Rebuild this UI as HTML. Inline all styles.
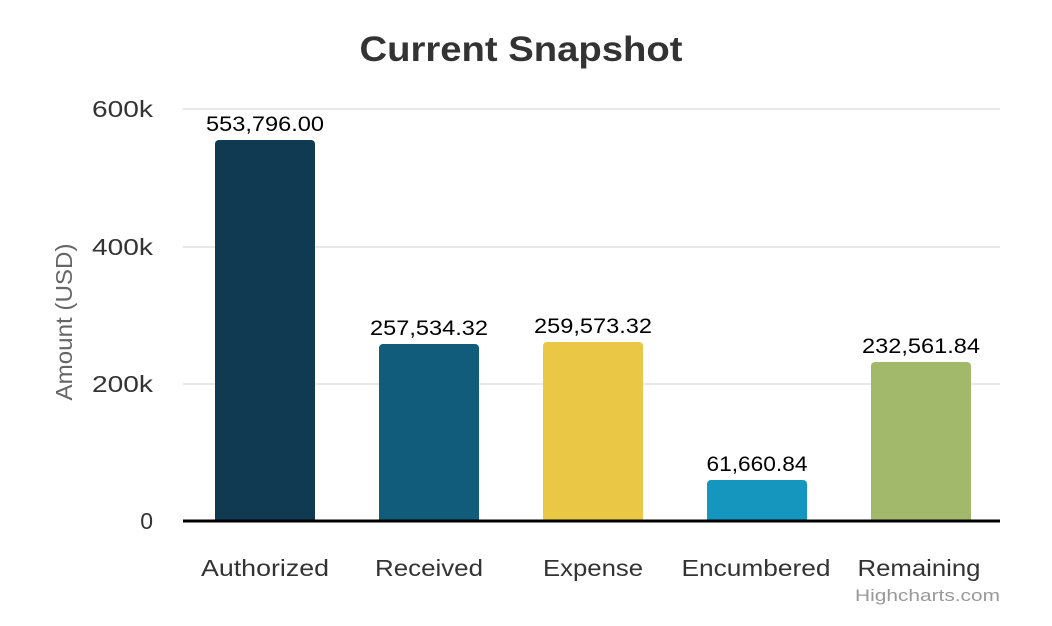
<!DOCTYPE html>
<html><head><style>body{margin:0;background:#fff}svg{display:block;font-family:"Liberation Sans",sans-serif}</style></head><body>
<svg width="1052" height="626" viewBox="0 0 1052 626">
<rect width="1052" height="626" fill="#fff"/>
<text x="521" y="61" text-anchor="middle" font-size="35" font-weight="bold" fill="#333" textLength="323" lengthAdjust="spacingAndGlyphs">Current Snapshot</text>
<g stroke="#e0e0e0" stroke-width="1.5">
<line x1="183" x2="1000" y1="109" y2="109"/>
<line x1="183" x2="1000" y1="247" y2="247"/>
<line x1="183" x2="1000" y1="384" y2="384"/>
</g>
<g font-size="23" fill="#333" text-anchor="end" lengthAdjust="spacingAndGlyphs">
<text x="153" y="117" textLength="61" lengthAdjust="spacingAndGlyphs">600k</text>
<text x="153" y="255" textLength="61" lengthAdjust="spacingAndGlyphs">400k</text>
<text x="153" y="392" textLength="61" lengthAdjust="spacingAndGlyphs">200k</text>
<text x="153" y="529">0</text>
</g>
<text transform="translate(72 322) rotate(-90)" text-anchor="middle" font-size="23" fill="#666" textLength="157" lengthAdjust="spacingAndGlyphs">Amount (USD)</text>
<path d="M215 521V144a4 4 0 0 1 4-4h92a4 4 0 0 1 4 4V521Z" fill="#103a52"/>
<path d="M379 521V348a4 4 0 0 1 4-4h92a4 4 0 0 1 4 4V521Z" fill="#115c7a"/>
<path d="M543 521V346a4 4 0 0 1 4-4h92a4 4 0 0 1 4 4V521Z" fill="#eac745"/>
<path d="M707 521V484a4 4 0 0 1 4-4h92a4 4 0 0 1 4 4V521Z" fill="#1596bf"/>
<path d="M871 521V366a4 4 0 0 1 4-4h92a4 4 0 0 1 4 4V521Z" fill="#a2b86a"/>
<line x1="183" x2="1000" y1="521" y2="521" stroke="#000" stroke-width="3"/>
<g font-size="21" fill="#000" text-anchor="middle">
<text x="265" y="131" textLength="118" lengthAdjust="spacingAndGlyphs">553,796.00</text>
<text x="429" y="335" textLength="118" lengthAdjust="spacingAndGlyphs">257,534.32</text>
<text x="593" y="333" textLength="118" lengthAdjust="spacingAndGlyphs">259,573.32</text>
<text x="757" y="471" textLength="101" lengthAdjust="spacingAndGlyphs">61,660.84</text>
<text x="921" y="353" textLength="118" lengthAdjust="spacingAndGlyphs">232,561.84</text>
</g>
<g font-size="23" fill="#333" text-anchor="middle">
<text x="265" y="576" textLength="128" lengthAdjust="spacingAndGlyphs">Authorized</text>
<text x="429" y="576" textLength="108" lengthAdjust="spacingAndGlyphs">Received</text>
<text x="593" y="576" textLength="100" lengthAdjust="spacingAndGlyphs">Expense</text>
<text x="756" y="576" textLength="149" lengthAdjust="spacingAndGlyphs">Encumbered</text>
<text x="919" y="576" textLength="123" lengthAdjust="spacingAndGlyphs">Remaining</text>
</g>
<text x="1000" y="601" text-anchor="end" font-size="17" fill="#999" textLength="145" lengthAdjust="spacingAndGlyphs">Highcharts.com</text>
</svg>
</body></html>
